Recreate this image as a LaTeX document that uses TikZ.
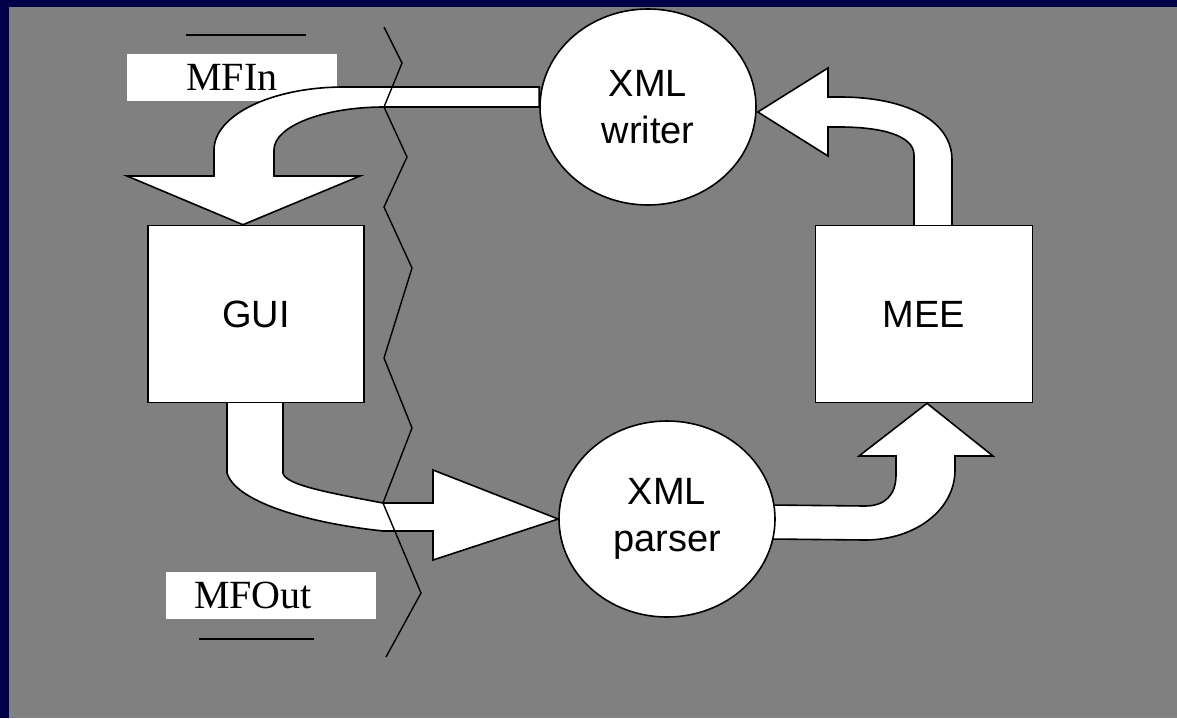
\documentclass[tikz,border=0pt]{standalone}
\usepackage{fontspec}
\setmainfont{Liberation Serif}
\setsansfont{Liberation Sans}
\usetikzlibrary{shapes.geometric,calc}
\definecolor{slidenavy}{RGB}{0,0,72}
\definecolor{slidegrey}{RGB}{128,128,128}
\pgfdeclarelayer{back}
\pgfdeclarelayer{flow}
\pgfsetlayers{back,flow,main}
\tikzset{
	unit/.style={draw=black, fill=white, line width=1.6pt, minimum width=216pt, minimum height=177pt, inner sep=0pt, font=\sffamily\fontsize{38}{47}\selectfont},
	proc/.style={ellipse, draw=black, fill=white, line width=1.6pt, minimum width=216pt, minimum height=196pt, inner sep=0pt, align=center, font=\sffamily\fontsize{38}{47}\selectfont},
	band/.style={draw=black, fill=white, line width=1.6pt, line join=miter},
	tag/.style={fill=white, minimum width=210pt, minimum height=47pt, inner sep=0pt, font=\rmfamily\fontsize{40}{40}\selectfont},
	bar/.style={line width=2pt},
	wall/.style={line width=1.4pt, line join=miter}
}
\begin{document}
\begin{tikzpicture}[x=1pt, y=-1pt]
		\useasboundingbox (0,0) rectangle (1177,718);
		\node[unit] (gui) at (256,314) {GUI};
		\node[unit, minimum width=217pt] (mee) at (924,314) {MEE};
		\node[proc] (writer) at (648,107) {XML\\writer};
		\node[proc] (parser) at (667,519) {XML\\parser};
		\begin{pgfonlayer}{back}
			\fill[slidenavy] (0,0) rectangle (1177,718);
			\fill[slidegrey] (9,7) rectangle (1177,718);
			\node[tag] (mfin) at (232,77) {MFIn};
			\node[tag, inner xsep=28pt, text width=154pt, align=left] (mfout) at (271,595) {MFOut};
		\end{pgfonlayer}
		\begin{pgfonlayer}{flow}
			% writer to GUI
			\draw[band] (writer.west) -- (384,107) .. controls (324,107) and (274,126) .. (274,150) -- (274,176) -- (360,176) -- ($(gui.north)+(-13,0)$) -- (127,176) -- (214,176) -- (214,150) .. controls (214,115) and (272,87) .. (344,87) -- ($(writer.west)+(0,-20)$) -- cycle;
			% GUI to parser
			\draw[band] ($(gui.south)+(-29,-6)$) -- (227,473) .. controls (235,500) and (300,522) .. (383,531) -- (433,531) -- (433,560) -- (parser.west) -- (433,470) -- (433,503) -- (383,503) .. controls (330,493) and (285,485) .. (283,473) -- ($(gui.south)+(27,-6)$) -- cycle;
			% parser to MEE
			\draw[band] ($(parser.east)+(-6,-14)$) -- (865,506) .. controls (885,506) and (896,495) .. (896,475) -- (896,456) -- (859,456) -- ($(mee.south)+(3,0)$) -- (993,456) -- (955,456) -- (955,470) .. controls (955,510) and (915,540) .. (865,540) -- ($(parser.east)+(-6,20)$) -- cycle;
			% MEE to writer
			\draw[band] ($(mee.north)+(-10,6)$) -- (914,155) .. controls (914,135) and (880,127) .. (840,127) -- (828,127) -- (828,156) -- ($(writer.east)+(1,5)$) -- (828,68) -- (828,97) -- (840,97) .. controls (905,97) and (952,120) .. (952,160) -- ($(mee.north)+(28,6)$) -- cycle;
		\end{pgfonlayer}
		\draw[bar] (186,35) -- (306,35);
		\draw[bar] (199,639) -- (314,639);
		\draw[wall] (384,27) -- (402,63) -- (384,107) -- (407,157) -- (384,207) -- (412,268) -- (384,358) -- (412,428) -- (383,503) -- (421,593) -- (386,657);
\end{tikzpicture}
\end{document}
